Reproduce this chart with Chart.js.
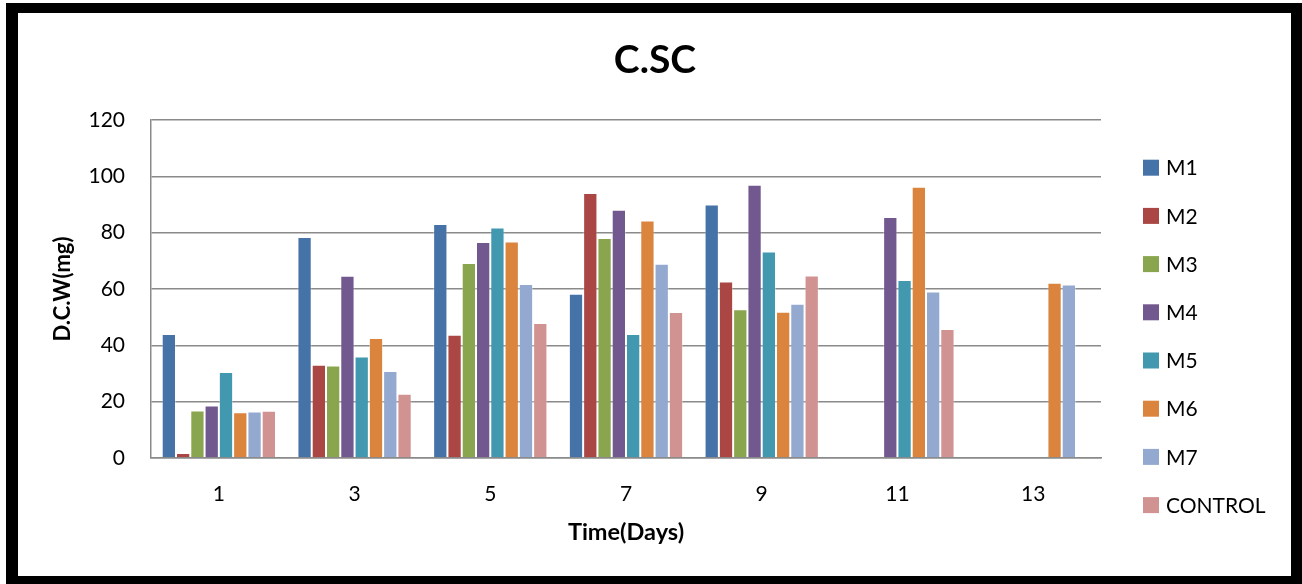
<!DOCTYPE html>
<html>
<head>
<meta charset="utf-8">
<title>C.SC</title>
<script src="https://cdn.jsdelivr.net/npm/chart.js@4.4.1/dist/chart.umd.min.js"></script>
<style>
  html, body { margin: 0; padding: 0; background: #fff; }
  #wrap { position: relative; width: 1302px; height: 584px; overflow: hidden; background: #fff; }
  #c { position: absolute; left: 0; top: 0; }
  #frame {
    position: absolute; left: 6px; top: 3px; width: 1296px; height: 581px;
    box-sizing: border-box; border-style: solid; border-color: #000;
    border-width: 10px 11px 8px 12px; pointer-events: none;
  }
</style>
</head>
<body>
<div id="wrap">
  <canvas id="c" width="1302" height="584"></canvas>
  <div id="frame"></div>
</div>
<script>
// Sampling days
const days = ['1', '3', '5', '7', '9', '11', '13'];

// Dry cell weight (mg) per medium
const M1      = [44.0, 78.5, 83.1, 58.3, 90.0, null, null];
const M2      = [1.8, 33.1, 43.8, 94.1, 62.7, null, null];
const M3      = [16.9, 32.8, 69.2, 78.1, 52.8, null, null];
const M4      = [18.6, 64.7, 76.7, 88.1, 97.0, 85.6, null];
const M5      = [30.5, 36.0, 81.8, 44.0, 73.3, 63.2, null];
const M6      = [16.2, 42.6, 76.9, 84.3, 51.9, 96.3, 62.2];
const M7      = [16.5, 30.9, 61.8, 69.0, 54.8, 59.1, 61.6];
const CONTROL = [16.8, 22.8, 47.9, 51.8, 64.8, 45.8, null];

const seriesNames  = ['M1', 'M2', 'M3', 'M4', 'M5', 'M6', 'M7', 'CONTROL'];
const seriesValues = [M1, M2, M3, M4, M5, M6, M7, CONTROL];
const seriesColors = ['#4572A7', '#AA4643', '#89A54E', '#71588F', '#4198AF', '#DB843D', '#93A9CF', '#D19392'];

// Y axis range
const yMin = 0, yMax = 120, yStep = 20;

const FONT = "Lato, 'Open Sans', sans-serif";
const GRID = '#8a8a8a';

// Legend drawn as a column to the right of the plot area
const sideLegend = {
  id: 'sideLegend',
  afterDraw(chart) {
    const { ctx, chartArea } = chart;
    const x0 = chartArea.right + 42;
    const y0 = chartArea.top + 47.7;
    const step = 48.2;
    ctx.save();
    ctx.font = '21px ' + FONT;
    ctx.textBaseline = 'middle';
    ctx.textAlign = 'left';
    chart.data.datasets.forEach((ds, i) => {
      const cy = y0 + i * step;
      ctx.fillStyle = ds.backgroundColor;
      ctx.fillRect(x0, cy - 8, 16, 16);
      ctx.fillStyle = '#000';
      ctx.fillText(ds.label, x0 + 23, cy + 1);
    });
    ctx.restore();
  }
};

new Chart(document.getElementById('c'), {
  type: 'bar',
  data: {
    labels: days,
    datasets: seriesNames.map((name, i) => ({
      label: name,
      data: seriesValues[i],
      backgroundColor: seriesColors[i],
      borderColor: 'rgba(255,255,255,0.35)',
      borderWidth: 1,
      categoryPercentage: 0.842,
      barPercentage: 1.0
    }))
  },
  options: {
    responsive: false,
    animation: false,
    layout: { padding: { left: 8, right: 0, top: 0, bottom: 0 } },
    plugins: {
      legend: { display: false },
      tooltip: { enabled: false },
      title: {
        display: true,
        text: 'C.SC',
        color: '#000',
        font: { family: FONT, size: 39, weight: 'bold' },
        padding: { top: 37, bottom: 36.2 }
      }
    },
    scales: {
      x: {
        grid: { display: false },
        border: { display: true, color: GRID, width: 1.5 },
        ticks: { color: '#000', font: { family: FONT, size: 21 }, padding: 16, maxRotation: 0 },
        title: {
          display: true, text: 'Time(Days)', color: '#000',
          font: { family: FONT, size: 23.5, weight: 'bold' },
          padding: { top: 0, bottom: 37 }
        },
        afterFit(scale) { scale.height = 126; }
      },
      y: {
        min: yMin, max: yMax,
        grid: { color: GRID, lineWidth: 1.5, drawTicks: false },
        border: { display: true, color: GRID, width: 1.5 },
        ticks: { stepSize: yStep, color: '#000', font: { family: FONT, size: 21 }, padding: 26 },
        title: {
          display: true, text: 'D.C.W(mg)', color: '#000',
          font: { family: FONT, size: 22, weight: 'bold' },
          padding: { top: 42, bottom: 0 }
        },
        afterFit(scale) { scale.width = 143; }
      },
      // empty band on the right that holds the legend column
      legendBand: {
        type: 'linear',
        position: 'right',
        grid: { display: false, drawTicks: false },
        border: { display: false },
        ticks: { display: false },
        afterFit(scale) { scale.width = 201; }
      }
    }
  },
  plugins: [sideLegend]
});
</script>
</body>
</html>
